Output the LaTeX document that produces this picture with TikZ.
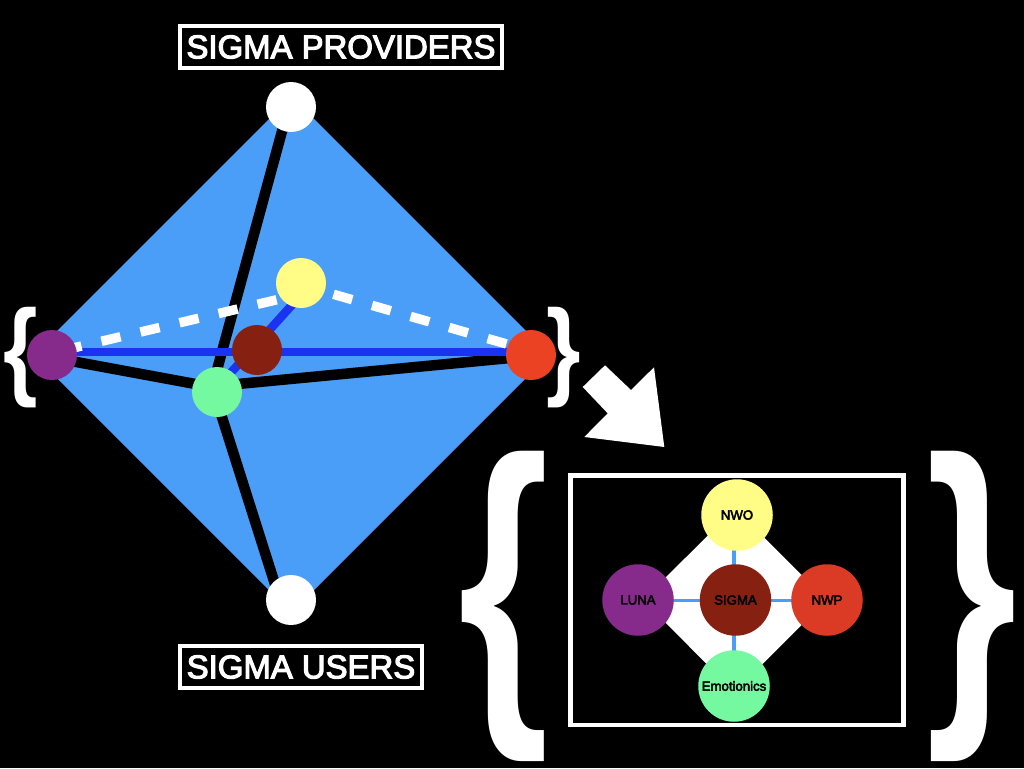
\documentclass[tikz,border=0pt]{standalone}
\usepackage{graphicx}
\usepackage{fontspec}
\setmainfont{Liberation Sans}
\newfontfamily\medfont{Liberation Sans}[FakeBold=3.5]
\usetikzlibrary{backgrounds}
\definecolor{skyb}{HTML}{4A9EF8}
\definecolor{deepb}{HTML}{1A33F0}
\definecolor{cpurple}{HTML}{862A8C}
\definecolor{cred}{HTML}{EC4224}
\definecolor{cred2}{HTML}{DB3B24}
\definecolor{cdark}{HTML}{862112}
\definecolor{cyellow}{HTML}{FFFD86}
\definecolor{cgreen}{HTML}{75F9A0}
\tikzset{
  x=1pt,y=-1pt,
  dot/.style={circle,draw=none,inner sep=0pt,minimum size=50pt},
  ball/.style={circle,draw=none,inner sep=0pt,minimum size=71.5pt,text=black,font=\medfont\fontsize{13.2}{14}\selectfont},
  titlebox/.style={draw=white,line width=4.5pt,fill=black,text=white,inner sep=0pt,font=\medfont\fontsize{32.9}{36}\selectfont,anchor=center},
  bracetext/.style={text=white,inner sep=0pt,anchor=center},
  blackedge/.style={draw=black,line width=10.5pt},
  blueedge/.style={draw=deepb,line width=8.5pt},
  dashedge/.style={draw=white,line width=9.5pt,dash pattern=on 19.5pt off 20.6pt},
  smalledge/.style={draw=skyb,line width=3.4pt}
}
\begin{document}
\begin{tikzpicture}
\useasboundingbox (0,0) rectangle (1024,768);
% octahedron vertices
\node[dot,fill=white] (top) at (291,107) {};
\node[dot,fill=white] (bottom) at (291,600) {};
\node[dot,fill=cpurple] (luna) at (52,355) {};
\node[dot,fill=cred] (nwp) at (531,355) {};
\node[dot,fill=cyellow] (nwo) at (301,283) {};
\node[dot,fill=cdark] (sigma) at (257,350) {};
\node[dot,fill=cgreen] (emo) at (217,392) {};
% diamond corners
\coordinate (dt) at (291.5,96.5);
\coordinate (dr) at (549.5,354.5);
\coordinate (db) at (291.5,612.5);
\coordinate (dl) at (33.5,354.5);
% titles
\node[titlebox,minimum width=322pt,minimum height=42pt] (provlabel) at (341,47) {SIGMA PROVIDERS};
\node[titlebox,minimum width=242pt,minimum height=42pt] (userlabel) at (301,667) {SIGMA USERS};
% braces
\node[bracetext,font=\fontsize{108}{110}\selectfont\bfseries] (bl) at (20.5,358) {\scalebox{.82}[1]{\{}};
\node[bracetext,font=\fontsize{108}{110}\selectfont\bfseries] (br) at (564,358) {\scalebox{.82}[1]{\}}};
\node[bracetext,font=\fontsize{333}{340}\selectfont\bfseries] (bigl) at (504,606.5) {\scalebox{.70}[1]{\{}};
\node[bracetext,font=\fontsize{333}{340}\selectfont\bfseries] (bigr) at (971.5,606.5) {\scalebox{.70}[1]{\}}};
% inset
\node[draw=white,line width=4.5pt,minimum width=333pt,minimum height=249.5pt,inner sep=0pt] (frame) at (737,600) {};
\node[ball,fill=cyellow] (inwo) at (737,515) {NWO};
\node[ball,fill=cpurple] (iluna) at (638,600) {LUNA};
\node[ball,fill=cdark] (isigma) at (735.5,600) {SIGMA};
\node[ball,fill=cred2] (inwp) at (827,600) {NWP};
\node[ball,fill=cgreen] (iemo) at (734,686) {Emotionics};
\coordinate (it) at (735,508.5);
\coordinate (ir) at (826.5,600);
\coordinate (ib) at (734.5,692);
\coordinate (il) at (643,600);
\begin{scope}[on background layer]
\fill[black] (0,0) rectangle (1024,768);
\fill[skyb] (dt) -- (dr) -- (db) -- (dl) -- cycle;
\draw[blackedge] ([xshift=-2.4pt]top.center) -- ([xshift=-6pt]emo.center);
\draw[blackedge] ([xshift=-3pt]emo.center) -- ([xshift=-11pt]bottom.center);
\draw[blackedge] ([yshift=-2.5pt]luna.center) -- ([yshift=4pt]emo.center);
\draw[blackedge] ([yshift=6pt]emo.center) -- ([yshift=-1pt]nwp.center);
\draw[blueedge] ([yshift=3pt]luna.center) -- ([yshift=3pt]nwp.center);
\draw[blueedge] ([yshift=-12pt]nwo.center) -- ([yshift=4pt]emo.center);
\draw[dashedge,dash phase=29.3pt] ([yshift=2pt]luna.center) -- ([yshift=-11pt]nwo.center);
\draw[dashedge,dash phase=14.5pt] ([yshift=4pt]nwp.center) -- ([yshift=-2pt]nwo.center);
\fill[white] (it) -- (ir) -- (ib) -- (il) -- cycle;
\draw[smalledge] (iemo.center) -- (iemo.center |- inwo.center);
\draw[smalledge] ([yshift=-.7pt]iluna.center) -- ([yshift=-.7pt]inwp.center);
\end{scope}
% block arrow
\fill[white] (582.7,387) -- (605,365.3) -- (631,390) -- (654,367.3) -- (664.3,447) -- (584.3,437) -- (607.7,413.3) -- cycle;
\end{tikzpicture}
\end{document}
